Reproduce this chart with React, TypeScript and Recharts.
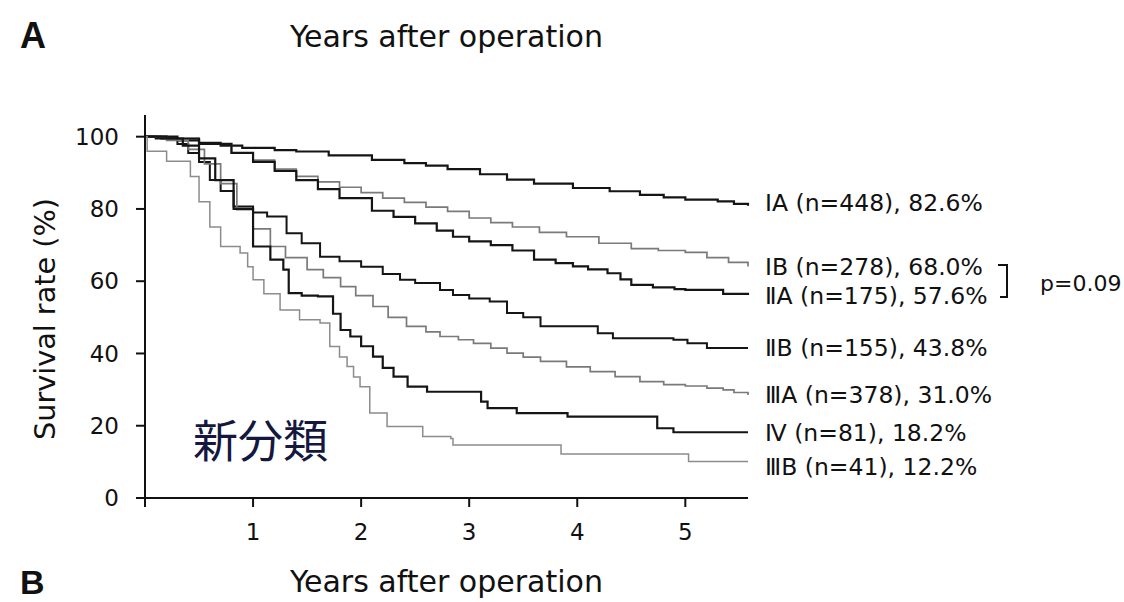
import { LineChart, Line, XAxis, YAxis } from 'recharts'

// Kaplan-Meier survival by stage (new classification)
const stageNames = ['ⅠA', 'ⅠB', 'ⅡA', 'ⅡB', 'ⅢA', 'Ⅳ', 'ⅢB']
const stageCounts = [448, 278, 175, 155, 378, 81, 41]
const fiveYearRates = [82.6, 68.0, 57.6, 43.8, 31.0, 18.2, 12.2]

const iaYears = [0, 0.1, 0.3, 0.5, 0.7, 0.9, 1.2, 1.4, 1.7, 2.1, 2.4, 2.6, 2.8, 3.1, 3.35, 3.6, 3.96, 4.3, 4.58, 4.8, 5.0, 5.3, 5.45, 5.58]
const iaRate = [100, 99.5, 99, 98.3, 97.5, 96.9, 96.3, 95.9, 94.8, 93.6, 92.7, 92.0, 91.0, 89.6, 88.1, 87.0, 85.8, 84.9, 83.9, 83.2, 82.6, 82.1, 81.4, 80.9]

const ibYears = [0, 0.2, 0.5, 0.8, 1.0, 1.2, 1.4, 1.6, 1.8, 2.0, 2.2, 2.4, 2.6, 2.8, 3.0, 3.2, 3.4, 3.65, 3.9, 4.2, 4.5, 4.75, 5.0, 5.2, 5.4, 5.58]
const ibRate = [100, 99.5, 98, 95.5, 93.5, 91, 89, 87.5, 86, 84.5, 83, 81.8, 80.5, 79.3, 77.5, 76.2, 75, 73.5, 72.3, 70.5, 69, 68.5, 68.0, 66.5, 65.2, 64.1]

const iiaYears = [0, 0.3, 0.5, 0.8, 1.0, 1.2, 1.4, 1.6, 1.8, 2.1, 2.3, 2.5, 2.7, 2.85, 3.0, 3.2, 3.4, 3.6, 3.8, 3.96, 4.1, 4.28, 4.4, 4.5, 4.7, 4.9, 5.0, 5.35, 5.58]
const iiaRate = [100, 99.5, 98, 95.5, 93, 90.5, 88, 85.5, 83, 79.5, 77.8, 76, 74, 72.3, 71, 70, 68.5, 66, 65, 64.1, 63.3, 62.2, 60.5, 59, 58.3, 57.8, 57.6, 56.5, 56.2]

const iibYears = [0, 0.15, 0.3, 0.4, 0.5, 0.6, 0.7, 0.82, 1.0, 1.13, 1.31, 1.45, 1.62, 1.8, 2.0, 2.2, 2.36, 2.5, 2.73, 2.85, 3.0, 3.19, 3.35, 3.5, 3.66, 4.19, 4.33, 4.89, 5.02, 5.2, 5.58]
const iibRate = [100, 99.5, 98, 95.5, 93, 88, 85, 80.7, 79, 77.9, 73.3, 70.5, 66.8, 65.5, 64, 62, 60.4, 59.5, 57.6, 56.2, 55.2, 54.4, 51.2, 50, 47.5, 45.6, 44.2, 43.8, 42.8, 41.5, 41.5]

const iiiaYears = [0, 0.2, 0.4, 0.55, 0.7, 0.85, 1.0, 1.16, 1.3, 1.5, 1.65, 1.81, 1.95, 2.11, 2.25, 2.42, 2.6, 2.73, 2.9, 3.04, 3.2, 3.35, 3.5, 3.66, 3.9, 4.12, 4.35, 4.58, 4.8, 5.0, 5.2, 5.35, 5.45, 5.58]
const iiiaRate = [100, 99, 96.5, 92.5, 87, 79.8, 74.5, 69.6, 66.5, 63.2, 61, 58.5, 56, 53, 50, 47.5, 46, 44.7, 43.8, 42.8, 41.5, 40.1, 39, 37.8, 36.3, 35, 33.6, 32.2, 31.4, 31.0, 30.4, 29.9, 29.2, 28.5]

const ivYears = [0, 0.2, 0.35, 0.5, 0.65, 0.82, 1.0, 1.16, 1.28, 1.33, 1.45, 1.6, 1.74, 1.81, 1.9, 2.0, 2.11, 2.2, 2.3, 2.43, 2.61, 3.11, 3.17, 3.44, 3.91, 4.74, 4.89, 5.58]
const ivRate = [100, 99.5, 97.5, 94, 88, 80, 69.6, 66, 63.2, 56.7, 56, 55.8, 51, 46.5, 44.7, 42, 39.1, 36, 33.6, 30.8, 29.4, 26.7, 24.9, 23.5, 22.5, 19.3, 18.2, 18.2]

const iiibYears = [0, 0.02, 0.2, 0.42, 0.5, 0.6, 0.7, 0.88, 0.95, 1.0, 1.1, 1.25, 1.43, 1.62, 1.71, 1.8, 1.87, 1.93, 1.99, 2.08, 2.24, 2.57, 2.83, 2.85, 3.85, 5.03, 5.58]
const iiibRate = [100, 96, 93.2, 89, 82, 75, 69.6, 67.8, 64, 60.4, 56.5, 52, 49.3, 48.4, 41.9, 39, 36.4, 33.5, 30.8, 23.5, 19.8, 17, 16.5, 14.7, 12.2, 10.1, 10.1]

const yTicks = [0, 20, 40, 60, 80, 100]
const xTicks = [0, 1, 2, 3, 4, 5]
const pValue = 'p=0.09'

const toPoints = (years: number[], rate: number[]) => years.map((t, i) => ({ t, v: rate[i] }))

const dark = '#151515'
const grey = '#7a7a7a'

const series = [
  { years: iaYears, rate: iaRate, color: dark, width: 2.2, labelY: 203 },
  { years: ibYears, rate: ibRate, color: grey, width: 1.7, labelY: 267 },
  { years: iiaYears, rate: iiaRate, color: dark, width: 2.2, labelY: 296 },
  { years: iibYears, rate: iibRate, color: dark, width: 2.0, labelY: 348 },
  { years: iiiaYears, rate: iiiaRate, color: grey, width: 1.7, labelY: 395 },
  { years: ivYears, rate: ivRate, color: dark, width: 2.2, labelY: 433 },
  { years: iiibYears, rate: iiibRate, color: '#8c8c8c', width: 1.5, labelY: 467 },
]

const font = "'DejaVu Sans', Verdana, sans-serif"
const ink = '#111'

export default function App() {
  return (
    <div style={{ position: 'absolute', left: 0, top: 0, width: 1124, height: 602, background: '#fff', fontFamily: font }}>
      <LineChart width={1124} height={602} margin={{ top: 115, right: 376, bottom: 0, left: 0 }}>
        <XAxis
          type="number"
          dataKey="t"
          domain={[0, 5.58]}
          ticks={xTicks}
          tickFormatter={(v) => (v === 0 ? '' : String(v))}
          height={104}
          tickSize={9}
          tickMargin={17}
          axisLine={{ stroke: ink, strokeWidth: 2 }}
          tickLine={{ stroke: ink, strokeWidth: 2 }}
          tick={{ fill: ink, fontSize: 23, fontFamily: font }}
        />
        <YAxis
          type="number"
          domain={[0, 106]}
          ticks={yTicks}
          width={145}
          tickSize={9}
          tickMargin={17}
          axisLine={{ stroke: ink, strokeWidth: 2 }}
          tickLine={{ stroke: ink, strokeWidth: 2 }}
          tick={{ fill: ink, fontSize: 23, fontFamily: font }}
        />
        {series.map((s, i) => (
          <Line
            key={stageNames[i]}
            data={toPoints(s.years, s.rate)}
            dataKey="v"
            type="stepAfter"
            stroke={s.color}
            strokeWidth={s.width}
            dot={false}
            activeDot={false}
            isAnimationActive={false}
          />
        ))}
      </LineChart>

      {/* titles, axis captions and stage labels */}
      <svg width={1124} height={602} style={{ position: 'absolute', left: 0, top: 0, pointerEvents: 'none' }}>
        <text x={20} y={48} fontSize={36} fontWeight="bold" fontFamily="'Liberation Sans', Arial, sans-serif" fill={ink}>A</text>
        <text x={290} y={47} fontSize={30} fontFamily="'DejaVu Sans Condensed', 'DejaVu Sans', sans-serif" fill={ink} textLength={313} lengthAdjust="spacingAndGlyphs">Years after operation</text>
        <text x={20} y={594} fontSize={34} fontWeight="bold" fontFamily="'Liberation Sans', Arial, sans-serif" fill={ink}>B</text>
        <text x={290} y={592} fontSize={30} fontFamily="'DejaVu Sans Condensed', 'DejaVu Sans', sans-serif" fill={ink} textLength={313} lengthAdjust="spacingAndGlyphs">Years after operation</text>

        <text
          transform="translate(55 319) rotate(-90)"
          textAnchor="middle"
          fontSize={28}
          fontFamily={font}
          fill={ink}
          textLength={242}
          lengthAdjust="spacingAndGlyphs"
        >
          Survival rate (%)
        </text>

        <text x={193} y={458} fontSize={45} fontFamily="'Noto Sans CJK JP', sans-serif" fill="#14183f">新分類</text>

        {series.map((s, i) => (
          <text key={stageNames[i]} x={765} y={s.labelY} dy="0.36em" fontSize={23.5} fontFamily={font} fill={ink}>
            {`${stageNames[i]} (n=${stageCounts[i]}), ${fiveYearRates[i].toFixed(1)}%`}
          </text>
        ))}

        <path d="M998 265 H1007 V297 H1000" fill="none" stroke={ink} strokeWidth={2} />
        <text x={1040} y={283} dy="0.36em" fontSize={22} fontFamily={font} fill={ink}>{pValue}</text>
      </svg>
    </div>
  )
}
